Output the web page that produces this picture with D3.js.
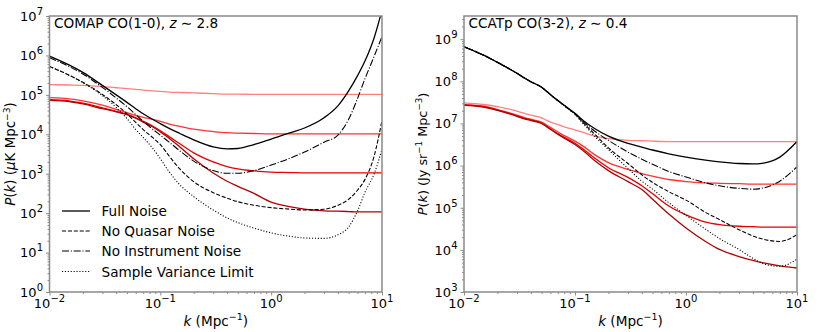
<!DOCTYPE html>
<html>
<head>
<meta charset="utf-8">
<script src="https://cdn.jsdelivr.net/npm/d3@7"></script>
<style>
  body { margin: 0; background: #fff; }
  svg { font-family: "DejaVu Sans", sans-serif; }
</style>
</head>
<body>
<div id="chart"></div>
<script>
// ---- data: log10 P(k) ----
var kComap = [0.01, 0.015, 0.02, 0.03, 0.04, 0.05, 0.06, 0.07, 0.085, 0.1, 0.12, 0.15, 0.2, 0.3, 0.4, 0.5, 0.7, 1, 1.5, 2, 3, 4, 5, 6, 7, 8.5, 10];
var comapFull       = [5.985, 5.76, 5.57, 5.24, 5.00, 4.81, 4.65, 4.52, 4.38, 4.27, 4.15, 4.02, 3.86, 3.68, 3.63, 3.64, 3.74, 3.88, 4.04, 4.16, 4.42, 4.72, 5.10, 5.48, 5.85, 6.45, 7.15];
var comapNoInstr    = [5.94, 5.72, 5.53, 5.19, 4.92, 4.70, 4.50, 4.33, 4.13, 3.98, 3.80, 3.58, 3.32, 3.08, 3.01, 3.01, 3.08, 3.22, 3.40, 3.55, 3.80, 3.98, 4.38, 4.90, 5.40, 5.98, 6.48];
var comapNoQuasar   = [5.72, 5.50, 5.32, 5.01, 4.75, 4.52, 4.30, 4.12, 3.92, 3.74, 3.45, 3.12, 2.80, 2.52, 2.38, 2.29, 2.20, 2.14, 2.10, 2.08, 2.10, 2.20, 2.35, 2.58, 2.85, 3.45, 4.35];
var comapSampleVar  = [5.72, 5.50, 5.31, 4.98, 4.68, 4.40, 4.12, 3.92, 3.65, 3.38, 3.05, 2.72, 2.42, 2.08, 1.88, 1.76, 1.62, 1.50, 1.41, 1.37, 1.36, 1.45, 1.65, 2.05, 2.52, 3.00, 3.62];
var comapRed1 = [5.26, 5.25, 5.24, 5.21, 5.18, 5.16, 5.14, 5.12, 5.10, 5.09, 5.07, 5.06, 5.05, 5.03, 5.02, 5.02, 5.01, 5.01, 5.01, 5.01, 5.01, 5.01, 5.01, 5.01, 5.01, 5.01, 5.01];
var comapRed2 = [4.93, 4.90, 4.85, 4.74, 4.63, 4.55, 4.48, 4.43, 4.38, 4.33, 4.26, 4.20, 4.13, 4.07, 4.04, 4.03, 4.02, 4.01, 4.01, 4.01, 4.01, 4.01, 4.01, 4.01, 4.01, 4.01, 4.01];
var comapRed3 = [4.88, 4.85, 4.79, 4.67, 4.58, 4.51, 4.42, 4.33, 4.21, 4.09, 3.94, 3.76, 3.53, 3.30, 3.18, 3.12, 3.07, 3.04, 3.03, 3.02, 3.02, 3.02, 3.02, 3.02, 3.02, 3.02, 3.02];
var comapRed4 = [4.86, 4.83, 4.77, 4.65, 4.57, 4.50, 4.41, 4.31, 4.19, 4.06, 3.90, 3.68, 3.38, 3.02, 2.81, 2.68, 2.50, 2.28, 2.16, 2.10, 2.06, 2.05, 2.04, 2.03, 2.03, 2.03, 2.03];

var kCcat = [0.01, 0.015, 0.02, 0.03, 0.035, 0.04, 0.05, 0.055, 0.065, 0.08, 0.1, 0.12, 0.15, 0.2, 0.3, 0.4, 0.5, 0.7, 1, 1.5, 2, 3, 4, 5, 7, 10];
var ccatFull      = [8.82, 8.62, 8.45, 8.19, 8.08, 7.99, 7.86, 7.77, 7.61, 7.43, 7.24, 7.06, 6.88, 6.70, 6.53, 6.44, 6.37, 6.28, 6.20, 6.13, 6.09, 6.05, 6.04, 6.06, 6.20, 6.57];
var ccatNoInstr   = [8.82, 8.62, 8.45, 8.19, 8.08, 7.99, 7.86, 7.77, 7.61, 7.43, 7.23, 7.03, 6.82, 6.60, 6.32, 6.15, 6.03, 5.86, 5.73, 5.59, 5.52, 5.46, 5.44, 5.47, 5.63, 5.97];
var ccatNoQuasar  = [8.82, 8.62, 8.45, 8.19, 8.08, 7.99, 7.86, 7.77, 7.61, 7.42, 7.22, 7.00, 6.75, 6.42, 6.05, 5.78, 5.60, 5.38, 5.18, 4.89, 4.72, 4.48, 4.33, 4.25, 4.20, 4.36];
var ccatSampleVar = [8.82, 8.62, 8.45, 8.19, 8.08, 7.99, 7.86, 7.77, 7.61, 7.42, 7.21, 6.98, 6.70, 6.38, 5.93, 5.63, 5.44, 5.12, 4.82, 4.49, 4.27, 4.01, 3.80, 3.67, 3.61, 3.78];
var ccatRed1 = [7.49, 7.45, 7.40, 7.29, 7.24, 7.20, 7.13, 7.08, 7.00, 6.92, 6.85, 6.78, 6.70, 6.64, 6.60, 6.59, 6.58, 6.57, 6.57, 6.57, 6.57, 6.57, 6.57, 6.57, 6.57, 6.57];
var ccatRed2 = [7.44, 7.41, 7.33, 7.20, 7.14, 7.10, 7.03, 6.97, 6.85, 6.71, 6.58, 6.45, 6.26, 6.07, 5.91, 5.81, 5.75, 5.67, 5.62, 5.59, 5.58, 5.57, 5.56, 5.56, 5.56, 5.56];
var ccatRed3 = [7.44, 7.40, 7.32, 7.18, 7.12, 7.08, 7.01, 6.94, 6.81, 6.67, 6.53, 6.38, 6.18, 5.95, 5.72, 5.52, 5.33, 5.04, 4.83, 4.66, 4.60, 4.56, 4.55, 4.54, 4.54, 4.54];
var ccatRed4 = [7.43, 7.39, 7.31, 7.17, 7.11, 7.07, 7.00, 6.93, 6.80, 6.65, 6.50, 6.34, 6.12, 5.88, 5.62, 5.43, 5.20, 4.85, 4.52, 4.20, 4.01, 3.84, 3.75, 3.69, 3.62, 3.57];

var legendLabels = ['Full Noise', 'No Quasar Noise', 'No Instrument Noise', 'Sample Variance Limit'];
var xTickExps = [-2, -1, 0, 1];
var comapYTickExps = [0, 1, 2, 3, 4, 5, 6, 7];
var ccatYTickExps = [3, 4, 5, 6, 7, 8, 9];

// line styles (matplotlib-like)
var redColors = ['#ff8080', '#ff3333', '#e60000', '#b30000'];
var styles = {
  solid:   null,
  dashed:  '4.1,1.8',
  dashdot: '7,1.8,1.1,1.8',
  dotted:  '1.1,1.8'
};

var W = 830, H = 332;
var svg = d3.select('#chart').append('svg').attr('width', W).attr('height', H);

var TOP = 16, BOTTOM = 292;
var spineColor = '#8a8a8a';
var tickFs = 13, supFs = 10, textFs = 13.6;

function fmtExp(e) { return e < 0 ? '\u2212' + (-e) : String(e); }

// text helper: parts = [{t, sup, it}]
function richText(sel, parts, size, sSize, rise) {
  sSize = sSize || size * 0.7;
  rise = rise || size * 0.42;
  parts.forEach(function (p, i) {
    var ts = sel.append('tspan').text(p.t);
    if (p.sup) ts.attr('font-size', sSize).attr('dy', -rise);
    else if (i > 0 && parts[i - 1].sup) ts.attr('dy', rise);
    if (p.it) ts.attr('font-style', 'italic');
  });
  return sel;
}

function drawPanel(p) {
  var x = d3.scaleLog().domain([0.01, 10]).range([p.left, p.right]);
  var y = d3.scaleLog().domain(p.yDomain).range([BOTTOM, TOP]);
  var g = svg.append('g');

  var clipId = 'clip-' + p.id;
  svg.append('clipPath').attr('id', clipId)
    .append('rect').attr('x', p.left).attr('y', TOP)
    .attr('width', p.right - p.left).attr('height', BOTTOM - TOP);

  var line = d3.line()
    .x(function (d) { return x(d[0]); })
    .y(function (d) { return y(Math.pow(10, d[1])); })
    .curve(d3.curveMonotoneX);

  var plot = g.append('g').attr('clip-path', 'url(#' + clipId + ')');

  p.series.forEach(function (s) {
    plot.append('path')
      .datum(p.k.map(function (k, i) { return [k, s.values[i]]; }))
      .attr('d', line)
      .attr('fill', 'none')
      .attr('stroke', s.color)
      .attr('stroke-width', s.width || 1.3)
      .attr('stroke-dasharray', s.dash);
  });

  // minor ticks
  var xMinor = [], yMinor = [];
  [0.01, 0.1, 1].forEach(function (d) { for (var m = 2; m <= 9; m++) xMinor.push(d * m); });
  for (var e = Math.floor(Math.log10(p.yDomain[0])); e < Math.ceil(Math.log10(p.yDomain[1])); e++) {
    for (var m = 2; m <= 9; m++) {
      var v = m * Math.pow(10, e);
      if (v > p.yDomain[0] && v < p.yDomain[1]) yMinor.push(v);
    }
  }

  function tickAxis(axis) {
    return function (sel) {
      sel.call(axis);
      sel.select('.domain').remove();
      sel.selectAll('line').attr('stroke', spineColor).attr('stroke-width', 1);
    };
  }
  g.append('g').attr('transform', 'translate(0,' + BOTTOM + ')')
    .call(tickAxis(d3.axisBottom(x).tickValues(xMinor).tickSize(2).tickFormat('')));
  g.append('g').attr('transform', 'translate(0,' + BOTTOM + ')')
    .call(tickAxis(d3.axisBottom(x).tickValues(xTickExps.map(function (e) { return Math.pow(10, e); })).tickSize(3.5).tickFormat('')));
  g.append('g').attr('transform', 'translate(' + p.left + ',0)')
    .call(tickAxis(d3.axisLeft(y).tickValues(yMinor).tickSize(2).tickFormat('')));
  g.append('g').attr('transform', 'translate(' + p.left + ',0)')
    .call(tickAxis(d3.axisLeft(y).tickValues(p.yTicks.map(function (e) { return Math.pow(10, e); })).tickSize(3.5).tickFormat('')));

  // spines
  g.append('rect')
    .attr('x', p.left).attr('y', TOP)
    .attr('width', p.right - p.left).attr('height', BOTTOM - TOP)
    .attr('fill', 'none').attr('stroke', spineColor).attr('stroke-width', 1.5);

  // tick labels
  xTickExps.forEach(function (e) {
    richText(g.append('text')
      .attr('x', x(Math.pow(10, e))).attr('y', 307.5)
      .attr('text-anchor', 'middle').attr('font-size', tickFs).attr('fill', '#000'),
      [{ t: '10' }, { t: fmtExp(e), sup: true }], tickFs, supFs, 6);
  });
  p.yTicks.forEach(function (e) {
    richText(g.append('text')
      .attr('x', p.left - 6.5).attr('y', y(Math.pow(10, e)) + 4.8)
      .attr('text-anchor', 'end').attr('font-size', tickFs).attr('fill', '#000'),
      [{ t: '10' }, { t: fmtExp(e), sup: true }], tickFs, supFs, 6);
  });

  // axis labels
  richText(g.append('text')
    .attr('x', (p.left + p.right) / 2).attr('y', 325.5)
    .attr('text-anchor', 'middle').attr('font-size', textFs),
    [{ t: 'k', it: true }, { t: ' (Mpc' }, { t: '\u22121', sup: true }, { t: ')' }], textFs);

  richText(g.append('text')
    .attr('transform', 'translate(' + p.yLabelX + ',' + ((TOP + BOTTOM) / 2) + ') rotate(-90)')
    .attr('text-anchor', 'middle').attr('font-size', p.yLabelFs),
    p.yLabel, p.yLabelFs, p.yLabelFs * 0.68, 4.6);

  // annotation
  richText(g.append('text')
    .attr('x', p.left + 4.5).attr('y', 28).attr('font-size', textFs),
    p.title, textFs);

  return g;
}

var comapPanel = drawPanel({
  id: 'comap', left: 49.5, right: 382, yDomain: [1, 1e7], yTicks: comapYTickExps,
  k: kComap, yLabelX: 14.5, yLabelFs: 13.4,
  yLabel: [{ t: 'P', it: true }, { t: '(' }, { t: 'k', it: true }, { t: ') (' }, { t: '\u03bc', it: true }, { t: 'K Mpc' }, { t: '\u22123', sup: true }, { t: ')' }],
  title: [{ t: 'COMAP CO(1-0), ' }, { t: 'z', it: true }, { t: ' \u223c 2.8' }],
  series: [
    { values: comapRed1, color: redColors[0] },
    { values: comapRed2, color: redColors[1] },
    { values: comapRed3, color: redColors[2] },
    { values: comapRed4, color: redColors[3] },
    { values: comapSampleVar, color: '#000', dash: styles.dotted, width: 1.1 },
    { values: comapNoInstr, color: '#000', dash: styles.dashdot, width: 1.1 },
    { values: comapNoQuasar, color: '#000', dash: styles.dashed, width: 1.1 },
    { values: comapFull, color: '#000', width: 1.3 }
  ]
});

drawPanel({
  id: 'ccat', left: 464, right: 797, yDomain: [1e3, Math.pow(10, 9.55)], yTicks: ccatYTickExps,
  k: kCcat, yLabelX: 427, yLabelFs: 12.8,
  yLabel: [{ t: 'P', it: true }, { t: '(' }, { t: 'k', it: true }, { t: ') (Jy sr' }, { t: '\u22121', sup: true }, { t: ' Mpc' }, { t: '\u22123', sup: true }, { t: ')' }],
  title: [{ t: 'CCATp CO(3-2), ' }, { t: 'z', it: true }, { t: ' \u223c 0.4' }],
  series: [
    { values: ccatRed1, color: redColors[0] },
    { values: ccatRed2, color: redColors[1] },
    { values: ccatRed3, color: redColors[2] },
    { values: ccatRed4, color: redColors[3] },
    { values: ccatSampleVar, color: '#000', dash: styles.dotted, width: 1.1 },
    { values: ccatNoInstr, color: '#000', dash: styles.dashdot, width: 1.1 },
    { values: ccatNoQuasar, color: '#000', dash: styles.dashed, width: 1.1 },
    { values: ccatFull, color: '#000', width: 1.3 }
  ]
});

// legend (left panel, no frame)
var legendDash = [styles.solid, styles.dashed, styles.dashdot, styles.dotted];
var legendY = [211, 231, 251, 271.5];
var legend = comapPanel.append('g');
legendLabels.forEach(function (label, i) {
  legend.append('line')
    .attr('x1', 62).attr('x2', 90).attr('y1', legendY[i]).attr('y2', legendY[i])
    .attr('stroke', '#000').attr('stroke-width', i === 0 ? 1.3 : 1.1)
    .attr('stroke-dasharray', legendDash[i]);
  legend.append('text')
    .attr('x', 101.5).attr('y', legendY[i] + 5)
    .attr('font-size', textFs).text(label);
});
</script>
</body>
</html>
